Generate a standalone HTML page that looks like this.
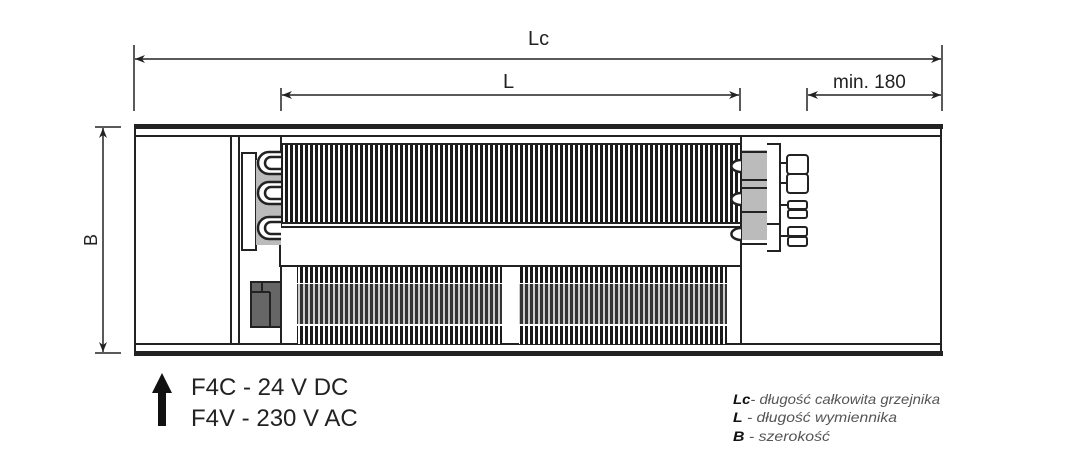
<!DOCTYPE html>
<html><head><meta charset="utf-8"><style>
html,body{margin:0;padding:0;background:#fff;width:1065px;height:474px;overflow:hidden}
svg{display:block}
text{font-family:"Liberation Sans",sans-serif}
</style></head><body>
<svg width="1065" height="474" viewBox="0 0 1065 474" xmlns="http://www.w3.org/2000/svg">
<defs>
<pattern id="fin" width="5" height="10" patternUnits="userSpaceOnUse"><rect width="5" height="10" fill="#fff"/><rect x="0" width="3" height="10" fill="#1a1a1a"/></pattern>
<pattern id="fin2" width="5" height="10" patternUnits="userSpaceOnUse"><rect width="5" height="10" fill="#fff"/><rect x="0" width="3" height="10" fill="#1a1a1a"/></pattern>
<pattern id="fing" width="5" height="10" patternUnits="userSpaceOnUse"><rect width="5" height="10" fill="#ccc"/><rect x="0" width="3" height="10" fill="#333"/></pattern>
<marker id="ar" markerWidth="10" markerHeight="8" refX="10" refY="4" orient="auto" markerUnits="userSpaceOnUse"><path d="M0,0 L10,4 L0,8 L3,4z" fill="#222"/></marker>
<marker id="al" markerWidth="10" markerHeight="8" refX="0" refY="4" orient="auto" markerUnits="userSpaceOnUse"><path d="M10,0 L0,4 L10,8 L7,4z" fill="#222"/></marker>
</defs>
<g stroke="#222" stroke-width="1.5" fill="none">
<line x1="134" y1="45" x2="134" y2="111"/><line x1="942" y1="45" x2="942" y2="111"/>
<line x1="281" y1="88" x2="281" y2="111"/><line x1="740" y1="88" x2="740" y2="111"/>
<line x1="807" y1="88" x2="807" y2="111"/>
<line x1="135" y1="59" x2="941" y2="59" marker-start="url(#al)" marker-end="url(#ar)"/>
<line x1="282" y1="95" x2="739" y2="95" marker-start="url(#al)" marker-end="url(#ar)"/>
<line x1="808" y1="95" x2="941" y2="95" marker-start="url(#al)" marker-end="url(#ar)"/>
<line x1="95" y1="127" x2="121" y2="127"/><line x1="95" y1="353" x2="121" y2="353"/>
<line x1="103" y1="128" x2="103" y2="352" marker-start="url(#al)" marker-end="url(#ar)"/>
</g>
<text x="528" y="45" font-size="20" fill="#222">Lc</text>
<text x="503" y="88" font-size="20" fill="#222">L</text>
<text x="833" y="88" font-size="19" fill="#222">min. 180</text>
<text transform="translate(97,240) rotate(-90)" font-size="18" fill="#222" text-anchor="middle">B</text>

<rect x="134" y="124" width="809" height="5" fill="#222"/>
<rect x="134" y="351" width="809" height="5" fill="#222"/>
<g stroke="#222" fill="none" stroke-width="2">
<line x1="135" y1="129" x2="135" y2="352"/><line x1="941" y1="129" x2="941" y2="352"/>
<line x1="135" y1="136" x2="941" y2="136"/>
<line x1="135" y1="344" x2="941" y2="344"/>
<line x1="231" y1="136" x2="231" y2="344"/><line x1="239" y1="136" x2="239" y2="344"/>
<line x1="281" y1="137" x2="281" y2="344"/><line x1="741" y1="136" x2="741" y2="344"/>
</g>
<rect x="282" y="145" width="459" height="77" fill="url(#fin)"/>
<line x1="281" y1="144" x2="741" y2="144" stroke="#222" stroke-width="2"/>
<line x1="281" y1="223" x2="741" y2="223" stroke="#222" stroke-width="2"/>
<rect x="280" y="227" width="461" height="39" fill="#fff" stroke="#222" stroke-width="2"/>
<rect x="242" y="153" width="14" height="97" fill="#fff" stroke="#222" stroke-width="2"/>
<rect x="256" y="160" width="25" height="85" fill="#bbb"/>
<g fill="#fff" stroke="#222" stroke-width="2.5">
<path d="M281,152 h-12 a11,11 0 0 0 0,22 h12"/><path d="M281,157 h-10 a6,6 0 0 0 0,12 h10"/>
<path d="M281,182 h-12 a11,11 0 0 0 0,22 h12"/><path d="M281,187 h-10 a6,6 0 0 0 0,12 h10"/>
<path d="M281,217 h-12 a11,11 0 0 0 0,22 h12"/><path d="M281,222 h-10 a6,6 0 0 0 0,12 h10"/>
</g>
<rect x="251" y="282" width="30" height="45" fill="#666" stroke="#222" stroke-width="2"/>
<line x1="251" y1="292" x2="270" y2="292" stroke="#222" stroke-width="2"/>
<line x1="262" y1="282" x2="262" y2="292" stroke="#222" stroke-width="2"/>
<line x1="270" y1="292" x2="270" y2="327" stroke="#222" stroke-width="2"/>
<g>
<rect x="297" y="267" width="205" height="16" fill="url(#fin2)"/>
<rect x="297" y="284" width="205" height="40" fill="url(#fing)"/>
<rect x="297" y="326" width="205" height="18" fill="url(#fin2)"/>
<rect x="519" y="267" width="208" height="16" fill="url(#fin2)"/>
<rect x="519" y="284" width="208" height="40" fill="url(#fing)"/>
<rect x="519" y="326" width="208" height="18" fill="url(#fin2)"/>
</g>
<rect x="742" y="150" width="25" height="90" fill="#bbb"/>
<g stroke="#222" stroke-width="2" fill="none">
<path d="M767,144 h13 v107 h-13"/><line x1="767" y1="224" x2="780" y2="224"/>
<line x1="741" y1="152" x2="767" y2="152"/><line x1="741" y1="180" x2="767" y2="180"/>
<line x1="741" y1="188" x2="767" y2="188"/><line x1="741" y1="212" x2="767" y2="212"/>
<line x1="741" y1="244" x2="767" y2="244"/>
<line x1="780" y1="163" x2="788" y2="163"/><line x1="780" y1="183" x2="788" y2="183"/>
<line x1="780" y1="205" x2="788" y2="205"/><line x1="780" y1="236" x2="788" y2="236"/>
<rect x="787" y="155" width="21" height="19" rx="3" fill="#fff"/>
<rect x="787" y="174" width="21" height="19" rx="3" fill="#fff"/>
<rect x="788" y="201" width="19" height="8" rx="2" fill="#fff"/>
<rect x="788" y="210" width="19" height="8" rx="2" fill="#fff"/>
<rect x="788" y="227" width="19" height="9" rx="2" fill="#fff"/>
<rect x="788" y="237" width="19" height="9" rx="2" fill="#fff"/>
</g>
<g fill="#fff" stroke="#222" stroke-width="2.5">
<path d="M741,160 a8,5 0 0 0 0,12"/><path d="M741,193 a8,5 0 0 0 0,12"/><path d="M741,228 a8,5 0 0 0 0,12"/>
</g>
<path d="M162,373 L172,393 L166,393 L166,426 L158,426 L158,393 L152,393z" fill="#111"/>
<text x="191" y="395" font-size="24" fill="#222">F4C - 24 V DC</text>
<text x="191" y="426" font-size="24" fill="#222">F4V - 230 V AC</text>
<g font-size="14" font-style="italic" fill="#555">
<text x="733" y="404" textLength="207" lengthAdjust="spacingAndGlyphs"><tspan font-weight="bold" fill="#111">Lc</tspan>- długość całkowita grzejnika</text>
<text x="733" y="422" textLength="164" lengthAdjust="spacingAndGlyphs"><tspan font-weight="bold" fill="#111">L</tspan>  - długość wymiennika</text>
<text x="733" y="441" textLength="97" lengthAdjust="spacingAndGlyphs"><tspan font-weight="bold" fill="#111">B</tspan>  - szerokość</text>
</g>
</svg>
</body></html>
